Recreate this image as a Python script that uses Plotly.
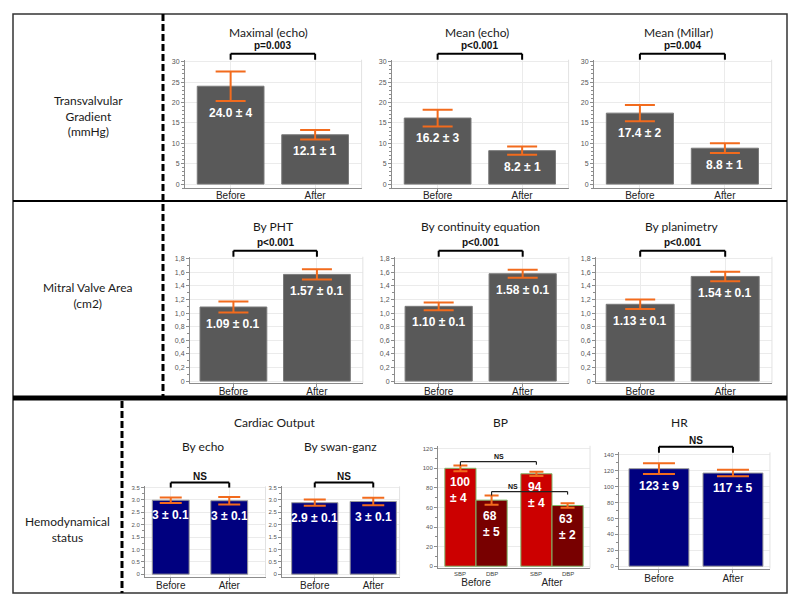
import plotly.graph_objects as go

W, H = 800, 606

# ---------------- data ----------------
categories = ["Before", "After"]
bp_types = ["SBP", "DBP"]

# Transvalvular gradient (mmHg)
grad_max_echo = [24.0, 12.1]
grad_max_echo_err = [3.6, 1.15]
grad_max_echo_txt = ["24.0 ± 4", "12.1 ± 1"]
grad_mean_echo = [16.2, 8.2]
grad_mean_echo_err = [2.05, 1.0]
grad_mean_echo_txt = ["16.2 ± 3", "8.2 ± 1"]
grad_mean_millar = [17.4, 8.8]
grad_mean_millar_err = [2.0, 1.2]
grad_mean_millar_txt = ["17.4 ± 2", "8.8 ± 1"]
grad_p = ["p=0.003", "p<0.001", "p=0.004"]
grad_tickvals = [0, 5, 10, 15, 20, 25, 30]
grad_ticktext = ["0", "5", "10", "15", "20", "25", "30"]

# Mitral valve area (cm2)
mva_pht = [1.09, 1.57]
mva_pht_err = [0.08, 0.075]
mva_pht_txt = ["1.09 ± 0.1", "1.57 ± 0.1"]
mva_cont = [1.10, 1.58]
mva_cont_err = [0.058, 0.058]
mva_cont_txt = ["1.10 ± 0.1", "1.58 ± 0.1"]
mva_plan = [1.13, 1.54]
mva_plan_err = [0.07, 0.07]
mva_plan_txt = ["1.13 ± 0.1", "1.54 ± 0.1"]
mva_p = ["p<0.001", "p<0.001", "p<0.001"]
mva_tickvals = [0, 0.2, 0.4, 0.6, 0.8, 1.0, 1.2, 1.4, 1.6, 1.8]
mva_ticktext = ["0", "0,2", "0,4", "0,6", "0,8", "1,0", "1,2", "1,4", "1,6", "1,8"]

# Hemodynamical status
co_echo = [2.99, 2.97]
co_echo_err = [0.11, 0.15]
co_echo_txt = ["3 ± 0.1", "3 ± 0.1"]
co_swan = [2.89, 2.94]
co_swan_err = [0.125, 0.15]
co_swan_txt = ["2.9 ± 0.1", "3 ± 0.1"]
co_tickvals = [0, 0.5, 1.0, 1.5, 2.0, 2.5, 3.0, 3.5]
co_ticktext = ["0", "0.5", "1.0", "1.5", "2.0", "2.5", "3.0", "3.5"]

bp_sbp = [100, 94.4]
bp_sbp_err = [2.9, 2.2]
bp_sbp_txt = ["100<br>± 4", "94<br>± 4"]
bp_dbp = [67.5, 62]
bp_dbp_err = [4.8, 2.2]
bp_dbp_txt = ["68<br>± 5", "63<br>± 2"]
bp_tickvals = [0, 20, 40, 60, 80, 100, 120]
bp_ticktext = ["0", "20", "40", "60", "80", "100", "120"]

hr = [122.5, 117]
hr_err = [6.7, 4.0]
hr_txt = ["123 ± 9", "117 ± 5"]
hr_tickvals = [0, 20, 40, 60, 80, 100, 120, 140]
hr_ticktext = ["0", "20", "40", "60", "80", "100", "120", "140"]

hemo_p = ["NS", "NS", "NS", "NS", "NS"]

row_labels = ["Transvalvular<br>Gradient<br>(mmHg)", "Mitral Valve Area<br>(cm2)", "Hemodynamical<br>status"]

# ---------------- styling / layout helpers ----------------
ORANGE = "#f26b1d"
GREY_BAR = "#595959"
NAVY = "#00007f"
RED = "#cc0000"
DARKRED = "#780000"
AXC = "#8c8c8c"
GRID = "#ebebeb"
TITLE_FONT = "Lato, Noto Sans, sans-serif"
ARIAL = "Liberation Sans, Arial, sans-serif"


def fx(p):
    return p / W


def fy(p):
    return 1 - p / H


panels = [
    dict(vals=grad_max_echo, err=grad_max_echo_err, txt=grad_max_echo_txt, title="Maximal (echo)", p=grad_p[0],
         x0=185, pxu=84.5, xr=[-0.54, 1.55], ybot=187.1, ytop=58, yr=[-1, 30.5], bw=0.79, color=GREY_BAR,
         lc="#7a7a7a", cap=15, tv=grad_tickvals, tt=grad_ticktext, minor=1, ty=31, tx=268, py=44, br=(52, 58),
         so=-5),
    dict(vals=grad_mean_echo, err=grad_mean_echo_err, txt=grad_mean_echo_txt, title="Mean (echo)", p=grad_p[1],
         x0=392, pxu=84.5, xr=[-0.54, 1.55], ybot=187.1, ytop=58, yr=[-1, 30.5], bw=0.79, color=GREY_BAR,
         lc="#7a7a7a", cap=15, tv=grad_tickvals, tt=grad_ticktext, minor=1, ty=31, tx=477, py=44, br=(52, 58),
         so=-5),
    dict(vals=grad_mean_millar, err=grad_mean_millar_err, txt=grad_mean_millar_txt, title="Mean (Millar)", p=grad_p[2],
         x0=594, pxu=85, xr=[-0.54, 1.55], ybot=187.1, ytop=58, yr=[-1, 30.5], bw=0.79, color=GREY_BAR,
         lc="#7a7a7a", cap=15, tv=grad_tickvals, tt=grad_ticktext, minor=1, ty=31, tx=678, py=44, br=(52, 58),
         so=-5),
    dict(vals=mva_pht, err=mva_pht_err, txt=mva_pht_txt, title="By PHT", p=mva_p[0],
         x0=190, pxu=83.5, xr=[-0.52, 1.55], ybot=383, ytop=256, yr=[-0.03, 1.83], bw=0.8, color=GREY_BAR,
         lc="#7a7a7a", cap=15, tv=mva_tickvals, tt=mva_ticktext, minor=0.1, ty=226, tx=273, py=242, br=(250, 256),
         so=-4),
    dict(vals=mva_cont, err=mva_cont_err, txt=mva_cont_txt, title="By continuity equation", p=mva_p[1],
         x0=395, pxu=84, xr=[-0.52, 1.55], ybot=383, ytop=256, yr=[-0.03, 1.83], bw=0.8, color=GREY_BAR,
         lc="#7a7a7a", cap=15, tv=mva_tickvals, tt=mva_ticktext, minor=0.1, ty=226, tx=480, py=242, br=(250, 256),
         so=-4),
    dict(vals=mva_plan, err=mva_plan_err, txt=mva_plan_txt, title="By planimetry", p=mva_p[2],
         x0=596, pxu=85, xr=[-0.52, 1.55], ybot=383, ytop=256, yr=[-0.03, 1.83], bw=0.8, color=GREY_BAR,
         lc="#7a7a7a", cap=15, tv=mva_tickvals, tt=mva_ticktext, minor=0.1, ty=226, tx=682, py=242, br=(250, 256),
         so=-4),
    dict(vals=co_echo, err=co_echo_err, txt=co_echo_txt, title="By echo", p=hemo_p[0],
         x0=145, pxu=58.5, xr=[-0.44, 1.62], ybot=577.5, ytop=486.8, yr=[-0.1, 3.55], bw=0.63, color=NAVY,
         lc="#9a9a9a", cap=11, tv=co_tickvals, tt=co_ticktext, minor=0.25, ty=447, tx=203, py=477, br=(483, 488),
         tfs=6, so=-4),
    dict(vals=co_swan, err=co_swan_err, txt=co_swan_txt, title="By swan-ganz", p=hemo_p[1],
         x0=282, pxu=58.5, xr=[-0.56, 1.45], ybot=577.5, ytop=486.8, yr=[-0.1, 3.55], bw=0.79, color=NAVY,
         lc="#9a9a9a", cap=11, tv=co_tickvals, tt=co_ticktext, minor=0.25, ty=447, tx=340, py=477, br=(483, 488),
         tfs=6, so=-4),
    dict(vals=hr, err=hr_err, txt=hr_txt, title="HR", p=hemo_p[4],
         x0=619, pxu=74, xr=[-0.54, 1.5], ybot=569.4, ytop=452.6, yr=[-3, 143], bw=0.81, color=NAVY,
         lc="#9a9a9a", cap=16, tv=hr_tickvals, tt=hr_ticktext, minor=10, ty=423, tx=679, py=441, br=(447, 453),
         tfs=6, so=-3),
]

# BP panel geometry
bp = dict(x0=438, pxu=76, xr=[-0.5, 1.5], ybot=569, ytop=446, yr=[-2, 123], bw=0.41)

fig = go.Figure()
layout = {}
annotations = []
shapes = []


def label(x, y, text, size, family=TITLE_FONT, color="#1a1a1a", xref="paper", yref="paper"):
    annotations.append(dict(x=x, y=y, xref=xref, yref=yref, text=text, showarrow=False,
                            xanchor="center", yanchor="middle", align="center",
                            font=dict(family=family, size=size, color=color)))


def axis_pair(n, x0, pxu, xr, ybot, ytop, yr, tv, tt, minor, tfs=7, standoff=0):
    x1 = x0 + (xr[1] - xr[0]) * pxu
    xs = "" if n == 1 else str(n)
    xa = dict(domain=[fx(x0), fx(x1)], range=xr, anchor="y" + xs, type="category",
              showline=True, linecolor=AXC, linewidth=1, ticks="outside", ticklen=3, tickcolor=AXC,
              showgrid=True, gridcolor=GRID, zeroline=False, ticklabelstandoff=standoff,
              tickfont=dict(family=ARIAL, size=10, color="#222"))
    ya = dict(domain=[fy(ybot), fy(ytop)], range=yr, anchor="x" + xs,
              showline=True, linecolor=AXC, linewidth=1, ticks="outside", ticklen=3, tickcolor=AXC,
              tickmode="array", tickvals=tv, ticktext=tt, showgrid=True, gridcolor=GRID, zeroline=False,
              tickfont=dict(family=ARIAL, size=tfs, color="#555"),
              minor=dict(ticks="outside", ticklen=2, tickcolor=AXC, tick0=0, dtick=minor, showgrid=False))
    layout["xaxis" + xs] = xa
    layout["yaxis" + xs] = ya
    # light frame line on right side of plot
    shapes.append(dict(type="line", xref="x" + xs + " domain", yref="y" + xs + " domain",
                       x0=1, x1=1, y0=0, y1=1, line=dict(color="#e2e2e2", width=1)))
    return "x" + xs, "y" + xs


def bracket(xref, xa, xb, yt, yb_a, yb_b, width=2, color="black"):
    shapes.append(dict(type="line", xref=xref, yref="paper", x0=xa, x1=xb, y0=fy(yt), y1=fy(yt),
                       line=dict(color=color, width=width)))
    shapes.append(dict(type="line", xref=xref, yref="paper", x0=xa, x1=xa, y0=fy(yt), y1=fy(yb_a),
                       line=dict(color=color, width=width)))
    shapes.append(dict(type="line", xref=xref, yref="paper", x0=xb, x1=xb, y0=fy(yt), y1=fy(yb_b),
                       line=dict(color=color, width=width)))


n = 0
for pnl in panels:
    n += 1
    xr_, yr_ = axis_pair(n, pnl["x0"], pnl["pxu"], pnl["xr"], pnl["ybot"], pnl["ytop"], pnl["yr"],
                         pnl["tv"], pnl["tt"], pnl["minor"], pnl.get("tfs", 7), pnl["so"])
    fig.add_trace(go.Bar(x=categories, y=pnl["vals"], width=[pnl["bw"]] * 2, xaxis=xr_, yaxis=yr_,
                         marker=dict(color=pnl["color"], line=dict(color=pnl["lc"], width=1)),
                         error_y=dict(type="data", array=pnl["err"], visible=True, color=ORANGE,
                                      thickness=2, width=pnl["cap"]),
                         showlegend=False, hoverinfo="skip"))
    for i, c in enumerate(categories):
        annotations.append(dict(x=c, y=pnl["vals"][i] - pnl["err"][i], xref=xr_, yref=yr_,
                                text="<b>" + pnl["txt"][i] + "</b>", showarrow=False,
                                xanchor="center", yanchor="top", yshift=-3,
                                font=dict(family=ARIAL, size=12, color="white")))
    label(fx(pnl["tx"]), fy(pnl["ty"]), pnl["title"], 12)
    label(0.5, fy(pnl["py"]), "<b>" + pnl["p"] + "</b>", 10, family=ARIAL, color="#111", xref=xr_)
    bracket(xr_, 0, 1, pnl["br"][0], pnl["br"][1], pnl["br"][1])

# ---- BP panel ----
n += 1
xr_, yr_ = axis_pair(n, bp["x0"], bp["pxu"], bp["xr"], bp["ybot"], bp["ytop"], bp["yr"],
                     bp_tickvals, bp_ticktext, 10, 6, standoff=5)
off = bp["bw"]
for vals, err, txt, col, o, nm in [(bp_sbp, bp_sbp_err, bp_sbp_txt, RED, -off, bp_types[0]),
                                   (bp_dbp, bp_dbp_err, bp_dbp_txt, DARKRED, 0.0, bp_types[1])]:
    fig.add_trace(go.Bar(x=categories, y=vals, width=[off] * 2, offset=o, xaxis=xr_, yaxis=yr_, name=nm,
                         marker=dict(color=col, line=dict(color="#7fb86a", width=1)),
                         error_y=dict(type="data", array=err, visible=True, color=ORANGE, thickness=2, width=7),
                         showlegend=False, hoverinfo="skip"))
    for i in range(len(categories)):
        xc = i + o + off / 2
        annotations.append(dict(x=xc, y=vals[i] - err[i], xref=xr_, yref=yr_, text="<b>" + txt[i] + "</b>",
                                showarrow=False, xanchor="center", yanchor="top", yshift=-2, align="left",
                                font=dict(family=ARIAL, size=12, color="white")))
        label(xc, fy(575), nm, 6, family=ARIAL, color="#444", xref=xr_)
layout["xaxis" + str(n)]["ticklen"] = 0
layout["xaxis" + str(n)]["showgrid"] = False
# BP brackets (SBP before -> SBP after, DBP before -> DBP after)
bracket(xr_, -off / 2, 1 - off / 2, 462, 466, 465, width=1.2, color="#222")
bracket(xr_, off / 2, 1 + off / 2, 492, 496, 495, width=1.2, color="#222")
label(0.3, fy(457), "<b>" + hemo_p[2] + "</b>", 7, family=ARIAL, color="#111", xref=xr_)
label(0.49, fy(487), "<b>" + hemo_p[3] + "</b>", 7, family=ARIAL, color="#111", xref=xr_)

# group titles in row 3
for txt, x, y in [("Cardiac Output", 274, 423), ("BP", 500, 423)]:
    label(fx(x), fy(y), txt, 12)

# row labels
for txt, x, y in zip(row_labels, [88, 88, 67], [115, 295, 530]):
    label(fx(x), fy(y), txt, 12)

# table frame
shapes.append(dict(type="rect", xref="paper", yref="paper", x0=fx(13), x1=fx(787), y0=fy(12), y1=fy(594),
                   line=dict(color="#333", width=1.5)))
shapes.append(dict(type="line", xref="paper", yref="paper", x0=fx(13), x1=fx(787), y0=fy(200), y1=fy(200),
                   line=dict(color="black", width=2)))
shapes.append(dict(type="line", xref="paper", yref="paper", x0=fx(13), x1=fx(787), y0=fy(398), y1=fy(398),
                   line=dict(color="black", width=5)))
shapes.append(dict(type="line", xref="paper", yref="paper", x0=fx(163), x1=fx(163), y0=fy(12), y1=fy(396),
                   line=dict(color="black", width=3, dash="7px,3px")))
shapes.append(dict(type="line", xref="paper", yref="paper", x0=fx(122), x1=fx(122), y0=fy(401), y1=fy(594),
                   line=dict(color="black", width=3, dash="7px,3px")))

fig.update_layout(width=W, height=H, autosize=False, margin=dict(l=0, r=0, t=0, b=0),
                  paper_bgcolor="white", plot_bgcolor="white", barmode="overlay",
                  annotations=annotations, shapes=shapes, **layout)

fig.write_html("out.html", config={"displayModeBar": False},
               post_script="document.body.style.margin='0';document.body.style.padding='0';")
